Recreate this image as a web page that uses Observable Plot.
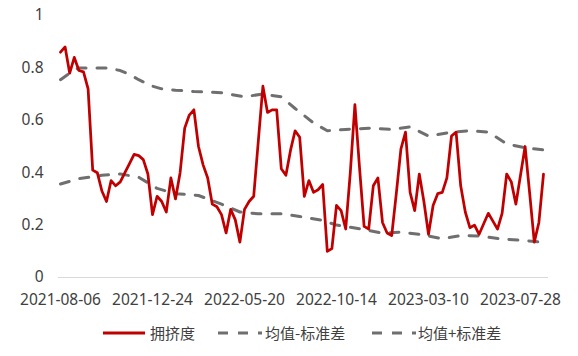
<!DOCTYPE html>
<html><head><meta charset="utf-8">
<script src="https://cdn.jsdelivr.net/npm/d3@7"></script>
<script src="https://cdn.jsdelivr.net/npm/@observablehq/plot@0.6"></script>
<style>
body{margin:0;background:#fff;}
#wrap{position:relative;width:578px;height:356px;overflow:hidden;background:#fff;}
#legend{position:absolute;left:0;top:322px;width:578px;height:22px;font-family:"Noto Sans CJK SC",sans-serif;font-size:15px;color:#404040;}
.sw{position:absolute;top:0;}
.lt{position:absolute;top:0;line-height:22px;white-space:nowrap;}
</style></head><body><div id="wrap"><div id="chart"></div><div id="legend"></div></div>
<script>
// x categories: weekly index, labels every 20 weeks
const tickIndex = [0, 20, 40, 60, 80, 100];
const tickLabels = ["2021-08-06", "2021-12-24", "2022-05-20", "2022-10-14", "2023-03-10", "2023-07-28"];
const yTicks = [0, 0.2, 0.4, 0.6, 0.8, 1];
const seriesNames = ["拥挤度", "均值-标准差", "均值+标准差"];

// 拥挤度 (weekly)
const crowding = [
  0.86,0.88,0.78,0.84,0.79,0.785,0.72,0.41,0.40,0.33,
  0.29,0.37,0.35,0.365,0.40,0.435,0.47,0.465,0.45,0.395,
  0.24,0.31,0.29,0.25,0.38,0.30,0.40,0.57,0.62,0.64,
  0.50,0.43,0.38,0.28,0.27,0.24,0.17,0.26,0.22,0.135,
  0.26,0.29,0.31,0.52,0.73,0.63,0.64,0.64,0.415,0.39,
  0.485,0.56,0.535,0.31,0.37,0.325,0.335,0.355,0.10,0.11,
  0.275,0.255,0.185,0.40,0.66,0.42,0.195,0.185,0.35,0.38,
  0.21,0.17,0.16,0.32,0.49,0.555,0.325,0.255,0.395,0.29,
  0.165,0.275,0.32,0.325,0.38,0.54,0.555,0.35,0.25,0.19,
  0.20,0.165,0.205,0.245,0.215,0.185,0.245,0.395,0.365,0.28,
  0.39,0.50,0.32,0.135,0.21,0.395
];

// 均值+标准差 (read at its vertices)
const upperIdx = [0,2,4,9,10,13,15,17,20,22,25,29,35,40,44,48,51,55,58,62,67,72,76,80,85,89,93,97,101,105];
const upperVal = [0.755,0.78,0.80,0.80,0.80,0.79,0.775,0.755,0.73,0.72,0.715,0.71,0.705,0.69,0.70,0.69,0.645,0.59,0.56,0.565,0.57,0.565,0.575,0.54,0.555,0.56,0.555,0.51,0.495,0.487];

// 均值-标准差 (read at its vertices)
const lowerIdx = [0,4,9,13,17,21,25,30,35,39,43,48,52,57,60,65,70,74,78,83,87,91,96,101,105];
const lowerVal = [0.357,0.377,0.39,0.395,0.383,0.34,0.32,0.313,0.28,0.25,0.243,0.243,0.233,0.218,0.20,0.186,0.169,0.173,0.165,0.148,0.16,0.158,0.147,0.141,0.134];

const crowdData = crowding.map((v, i) => ({i, v}));
const upperData = upperIdx.map((i, k) => ({i, v: upperVal[k]}));
const lowerData = lowerIdx.map((i, k) => ({i, v: lowerVal[k]}));

const RED = "#c00000", GRAY = "#6f6f6f", TXT = "#404040";

const chart = Plot.plot({
  width: 578, height: 312,
  marginLeft: 58, marginRight: 30, marginTop: 15, marginBottom: 35,
  style: {fontFamily: '"Noto Sans", sans-serif', fontSize: "15.5px", color: TXT, background: "#fff"},
  x: {domain: [0, 105], range: [60, 543], axis: null},
  y: {domain: [0, 1], axis: null},
  marks: [
    Plot.axisY(yTicks, {tickSize: 0, tickPadding: 15, label: null, tickFormat: d => String(d)}),
    Plot.axisX(tickIndex, {tickSize: 0, tickPadding: 16, label: null, tickFormat: (d) => tickLabels[tickIndex.indexOf(d)]}),
    Plot.ruleY([0], {stroke: "#d9d9d9", strokeWidth: 1}),
    Plot.line(lowerData, {x: "i", y: "v", stroke: GRAY, strokeWidth: 3, strokeDasharray: "9,11", strokeLinecap: "round"}),
    Plot.line(upperData, {x: "i", y: "v", stroke: GRAY, strokeWidth: 3, strokeDasharray: "9,11", strokeLinecap: "round"}),
    Plot.line(crowdData, {x: "i", y: "v", stroke: RED, strokeWidth: 2.75, strokeLinejoin: "round"})
  ]
});
document.getElementById("chart").appendChild(chart);

// legend
const legend = document.getElementById("legend");
const items = [
  {name: seriesNames[0], sx: 103, sw: 42, tx: 150, color: RED, dash: null},
  {name: seriesNames[1], sx: 218, sw: 44, tx: 265, color: GRAY, dash: "10,10"},
  {name: seriesNames[2], sx: 372, sw: 44, tx: 418, color: GRAY, dash: "10,10"}
];
for (const it of items) {
  const s = document.createElementNS("http://www.w3.org/2000/svg", "svg");
  s.setAttribute("class", "sw");
  s.setAttribute("width", it.sw);
  s.setAttribute("height", 22);
  s.style.left = it.sx + "px";
  const l = document.createElementNS("http://www.w3.org/2000/svg", "line");
  l.setAttribute("x1", 0); l.setAttribute("x2", it.sw);
  l.setAttribute("y1", 11); l.setAttribute("y2", 11);
  l.setAttribute("stroke", it.color);
  l.setAttribute("stroke-width", 3);
  if (it.dash) l.setAttribute("stroke-dasharray", it.dash);
  s.appendChild(l);
  legend.appendChild(s);
  const t = document.createElement("div");
  t.className = "lt";
  t.style.left = it.tx + "px";
  t.textContent = it.name;
  legend.appendChild(t);
}
</script>
</body></html>
